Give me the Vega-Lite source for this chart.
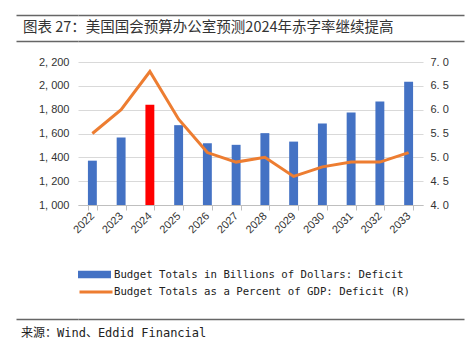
{
  "$schema": "https://vega.github.io/schema/vega-lite/v6.json",
  "padding": {"left": 15, "top": 14, "right": 5, "bottom": 0},
  "background": "white",
  "spacing": 14,
  "config": {"view": {"stroke": null}, "font": "Liberation Sans"},
  "datasets": {
    "cbo": [
      {"year": "2022", "deficit": 1372, "pct": 5.5},
      {"year": "2023", "deficit": 1566, "pct": 6.0},
      {"year": "2024", "deficit": 1841, "pct": 6.8},
      {"year": "2025", "deficit": 1670, "pct": 5.8},
      {"year": "2026", "deficit": 1519, "pct": 5.1},
      {"year": "2027", "deficit": 1505, "pct": 4.9},
      {"year": "2028", "deficit": 1603, "pct": 5.0},
      {"year": "2029", "deficit": 1532, "pct": 4.6},
      {"year": "2030", "deficit": 1684, "pct": 4.8},
      {"year": "2031", "deficit": 1776, "pct": 4.9},
      {"year": "2032", "deficit": 1869, "pct": 4.9},
      {"year": "2033", "deficit": 2034, "pct": 5.1}
    ]
  },
  "vconcat": [
    {
      "width": 386,
      "height": 26,
      "data": {"values": [{"label": "图表 27：美国国会预算办公室预测2024年赤字率继续提高"}]},
      "mark": {"type": "text", "align": "left", "baseline": "middle", "dx": -55, "font": "Noto Sans CJK SC", "fontSize": 14.5, "color": "#333333"},
      "encoding": {
        "text": {"field": "label"},
        "x": {"datum": 0, "type": "quantitative", "scale": {"domain": [0, 1]}, "axis": null},
        "y": {"datum": 0.5, "type": "quantitative", "scale": {"domain": [0, 1]},
          "axis": {"values": [0, 1], "grid": true, "gridColor": "#666666", "gridWidth": 1.5, "ticks": true, "tickSize": 62, "tickColor": "#666666", "tickWidth": 1.5, "domain": false, "labels": false, "title": null, "minExtent": 0}}
      }
    },
    {
      "width": 345,
      "height": 143,
      "data": {"name": "cbo"},
      "encoding": {
        "x": {"field": "year", "type": "ordinal", "scale": {"paddingInner": 0.69, "paddingOuter": 0.345},
          "axis": {"title": null, "labelAngle": -45, "labelAlign": "right", "labelBaseline": "middle", "tickBand": "extent", "domainColor": "#bfbfbf", "tickColor": "#bfbfbf", "tickSize": 5, "labelFontSize": 11, "labelPadding": 4, "labelColor": "#333333", "grid": false}}
      },
      "layer": [
        {
          "mark": {"type": "bar"},
          "encoding": {
            "y": {"field": "deficit", "type": "quantitative", "scale": {"domain": [1000, 2200], "nice": false},
              "axis": {"values": [1000, 1200, 1400, 1600, 1800, 2000, 2200], "labelExpr": "replace(format(datum.value, ','), ',', ', ')", "domain": false, "ticks": false, "grid": true, "gridColor": "#d9d9d9", "title": null, "labelPadding": 9, "labelFontSize": 11, "labelColor": "#333333"}},
            "y2": {"datum": 1000},
            "color": {
              "condition": {"test": "datum.year === '2024'", "value": "#FF0000"},
              "datum": "Budget Totals in Billions of Dollars: Deficit",
              "scale": {"range": ["#4472C4"]},
              "legend": {"orient": "none", "legendX": 0, "legendY": 243, "title": null, "symbolType": "M-1,-0.23H1V0.23H-1Z", "symbolSize": 1089, "symbolStrokeWidth": 0, "labelFont": "DejaVu Sans Mono", "labelFontSize": 10.7, "labelColor": "#222222", "labelLimit": 500, "labelOffset": 3, "padding": 0}
            }
          }
        },
        {
          "mark": {"type": "line", "strokeWidth": 3},
          "encoding": {
            "y": {"field": "pct", "type": "quantitative", "scale": {"domain": [4, 7], "nice": false},
              "axis": {"orient": "right", "values": [4, 4.5, 5, 5.5, 6, 6.5, 7], "labelExpr": "replace(format(datum.value, '.1f'), '.', '. ')", "domain": false, "ticks": false, "grid": false, "title": null, "labelPadding": 7, "labelFontSize": 11, "labelColor": "#333333"}},
            "stroke": {
              "datum": "Budget Totals as a Percent of GDP: Deficit (R)",
              "scale": {"range": ["#ED7D31"]},
              "legend": {"orient": "none", "legendX": 0, "legendY": 259, "title": null, "symbolType": "stroke", "symbolSize": 1089, "symbolStrokeWidth": 3, "labelFont": "DejaVu Sans Mono", "labelFontSize": 10.7, "labelColor": "#222222", "labelLimit": 500, "labelOffset": 0, "padding": 0}
            }
          }
        }
      ],
      "resolve": {"scale": {"y": "independent"}}
    },
    {
      "width": 386,
      "height": 28,
      "data": {"values": [{"label": "来源：Wind、Eddid Financial"}]},
      "mark": {"type": "text", "align": "left", "baseline": "middle", "dx": -57, "font": "'DejaVu Sans Mono', 'Noto Sans CJK SC'", "fontSize": 12, "color": "#222222"},
      "encoding": {
        "text": {"field": "label"},
        "x": {"datum": 0, "type": "quantitative", "scale": {"domain": [0, 1]},
          "axis": {"orient": "top", "labels": false, "ticks": false, "domain": false, "grid": false, "title": null, "minExtent": 70}},
        "y": {"datum": 0.5, "type": "quantitative", "scale": {"domain": [0, 1]},
          "axis": {"values": [1], "grid": true, "gridColor": "#666666", "gridWidth": 1.5, "ticks": true, "tickSize": 62, "tickColor": "#666666", "tickWidth": 1.5, "domain": false, "labels": false, "title": null, "minExtent": 0}}
      }
    }
  ]
}
